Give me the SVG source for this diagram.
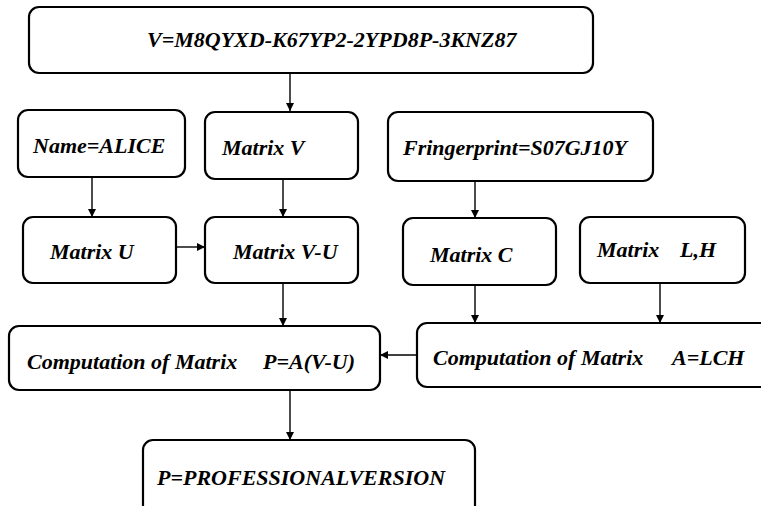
<svg xmlns="http://www.w3.org/2000/svg" width="761" height="506" viewBox="0 0 761 506">
<style>
.box{fill:#fff;stroke:#000;stroke-width:2.2}
.t{font-family:"Liberation Serif","Times New Roman",serif;font-weight:bold;font-style:italic;font-size:22px;fill:#000}
.c{stroke:#000;stroke-width:1.4;fill:none;marker-end:url(#ah)}
</style>
<defs>
<marker id="ah" viewBox="0 0 10 10" refX="10" refY="5" markerWidth="8" markerHeight="8" markerUnits="userSpaceOnUse" orient="auto">
<path d="M0,0 L10,5 L0,10 z" fill="#000"/>
</marker>
</defs>
<rect width="761" height="506" fill="#fff"/>
<g id="connectors">
<line class="c" x1="290" y1="73" x2="290" y2="111"/>
<line class="c" x1="92" y1="177" x2="92" y2="217"/>
<line class="c" x1="283" y1="179" x2="283" y2="217"/>
<line class="c" x1="176" y1="247" x2="205" y2="247"/>
<line class="c" x1="475" y1="181" x2="475" y2="218"/>
<line class="c" x1="283" y1="283" x2="283" y2="326"/>
<line class="c" x1="475" y1="285" x2="475" y2="323"/>
<line class="c" x1="660" y1="283" x2="660" y2="323"/>
<line class="c" x1="417" y1="355" x2="380" y2="355"/>
<line class="c" x1="290" y1="390" x2="290" y2="440"/>
</g>
<g id="node-v">
<rect class="box" x="29" y="7" width="564" height="66" rx="10"/>
<text class="t" x="147" y="47">V=M8QYXD-K67YP2-2YPD8P-3KNZ87</text>
</g>
<g id="node-name">
<rect class="box" x="18" y="110" width="167" height="67" rx="10"/>
<text class="t" x="33" y="153">Name=ALICE</text>
</g>
<g id="node-matrix-v">
<rect class="box" x="205" y="112" width="153" height="67" rx="10"/>
<text class="t" x="222" y="155">Matrix V</text>
</g>
<g id="node-fingerprint">
<rect class="box" x="388" y="112" width="265" height="69" rx="10"/>
<text class="t" x="403" y="155">Fringerprint=S07GJ10Y</text>
</g>
<g id="node-matrix-u">
<rect class="box" x="23" y="217" width="153" height="66" rx="10"/>
<text class="t" x="50" y="259">Matrix U</text>
</g>
<g id="node-matrix-vu">
<rect class="box" x="205" y="217" width="153" height="66" rx="10"/>
<text class="t" x="233" y="259">Matrix V-U</text>
</g>
<g id="node-matrix-c">
<rect class="box" x="403" y="218" width="153" height="67" rx="10"/>
<text class="t" x="430" y="262">Matrix C</text>
</g>
<g id="node-matrix-lh">
<rect class="box" x="580" y="217" width="165" height="66" rx="10"/>
<text class="t" x="597" y="257">Matrix<tspan x="680">L,H</tspan></text>
</g>
<g id="node-comp-a">
<rect class="box" x="417" y="323" width="360" height="64" rx="10"/>
<text class="t" x="433" y="365">Computation of Matrix<tspan x="672">A=LCH</tspan></text>
</g>
<g id="node-comp-p">
<rect class="box" x="9" y="326" width="371" height="64" rx="10"/>
<text class="t" x="27" y="369">Computation of Matrix<tspan x="263">P=A(V-U)</tspan></text>
</g>
<g id="node-p">
<rect class="box" x="143" y="440" width="332" height="90" rx="10"/>
<text class="t" x="157" y="485">P=PROFESSIONALVERSION</text>
</g>
</svg>
